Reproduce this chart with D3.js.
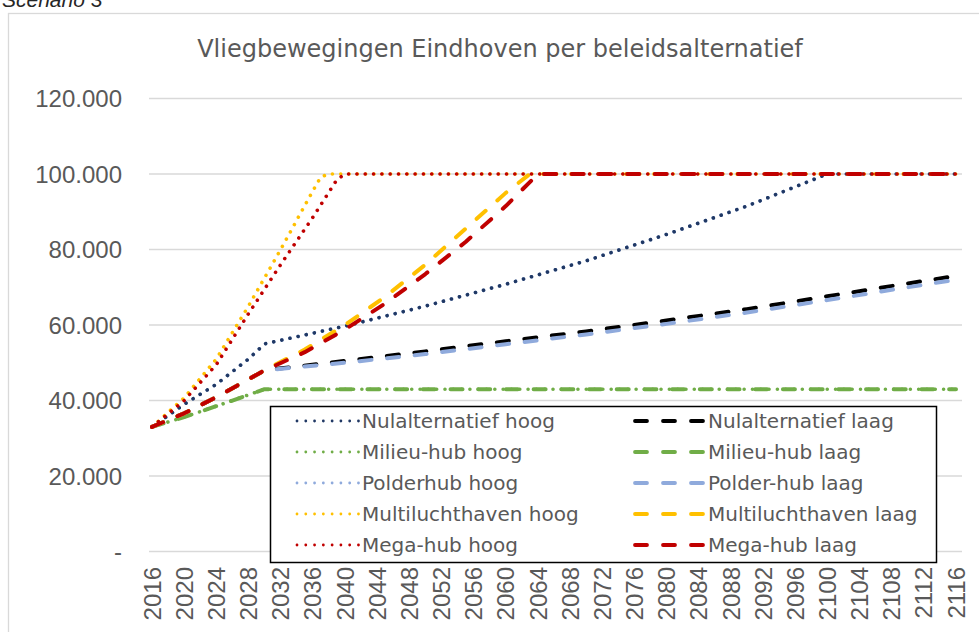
<!DOCTYPE html>
<html>
<head>
<meta charset="utf-8">
<script src="https://cdn.jsdelivr.net/npm/d3@7"></script>
<style>
  body { margin: 0; background: #fff; }
  svg { display: block; }
</style>
</head>
<body>
<script>
// chart data
var years = d3.range(2016, 2117);
var yTicks = [0, 20000, 40000, 60000, 80000, 100000, 120000];
var seriesNames = ["Nulalternatief hoog", "Nulalternatief laag", "Milieu-hub hoog", "Milieu-hub laag",
  "Polderhub hoog", "Polder-hub laag", "Multiluchthaven hoog", "Multiluchthaven laag",
  "Mega-hub hoog", "Mega-hub laag"];

var nulHoogYears = [2016, 2020, 2024, 2028, 2030, 2040, 2050, 2060, 2070, 2080, 2090, 2100, 2116];
var nulHoog      = [33000, 39000, 44300, 51000, 55000, 59700, 65000, 70800, 77000, 84000, 91500, 100000, 100000];

var nulLaagYears = [2016, 2020, 2024, 2028, 2030, 2040, 2050, 2060, 2070, 2080, 2090, 2100, 2110, 2116];
var nulLaag      = [33000, 36600, 40900, 45600, 48000, 50500, 53000, 55700, 58300, 61200, 64200, 67600, 71000, 73000];

var milieuYears = [2016, 2020, 2024, 2028, 2030, 2116];
var milieuHoog  = [33000, 35600, 38500, 41500, 43000, 43000];
var milieuLaag  = [33000, 35600, 38500, 41500, 43000, 43000];

var polderHoogYears = [2016, 2020, 2024, 2028, 2030, 2040, 2050, 2060, 2070, 2080, 2090, 2100, 2116];
var polderHoog      = [33000, 39000, 44300, 51000, 55000, 59700, 65000, 70800, 77000, 84000, 91500, 100000, 100000];

var polderLaagYears = [2016, 2020, 2024, 2028, 2030, 2040, 2050, 2060, 2070, 2080, 2090, 2100, 2110, 2116];
var polderLaag      = [33000, 36600, 40900, 45600, 48000, 50000, 52300, 54900, 57500, 60300, 63300, 66600, 70000, 72000];

var multiHoogYears = [2016, 2020, 2024, 2028, 2032, 2036, 2037, 2038, 2116];
var multiHoog      = [33000, 40700, 51000, 65000, 80000, 95500, 99200, 100000, 100000];

var multiLaagYears = [2016, 2020, 2024, 2028, 2030, 2035, 2040, 2045, 2050, 2055, 2060, 2063, 2116];
var multiLaag      = [33000, 36600, 40900, 45600, 48000, 53500, 60000, 67500, 76000, 85500, 95000, 100000, 100000];

var megaHoogYears = [2016, 2020, 2024, 2028, 2032, 2036, 2039, 2040, 2116];
var megaHoog      = [33000, 40000, 49500, 63000, 76000, 88500, 98500, 100000, 100000];

var megaLaagYears = [2016, 2020, 2024, 2028, 2030, 2035, 2040, 2045, 2050, 2055, 2060, 2064, 2116];
var megaLaag      = [33000, 36600, 40900, 45600, 48000, 52800, 58800, 65700, 73500, 82000, 91500, 100000, 100000];

var seriesYears  = [nulHoogYears, nulLaagYears, milieuYears, milieuYears, polderHoogYears,
  polderLaagYears, multiHoogYears, multiLaagYears, megaHoogYears, megaLaagYears];
var seriesValues = [nulHoog, nulLaag, milieuHoog, milieuLaag, polderHoog,
  polderLaag, multiHoog, multiLaag, megaHoog, megaLaag];

// looks
var colors = ["#203864", "#000000", "#70ad47", "#70ad47", "#8faadc", "#8faadc", "#ffc000", "#ffc000", "#c00000", "#c00000"];
var drawOrder = [4, 0, 1, 2, 3, 5, 6, 7, 8, 9];
var grey = "#595959";

var width = 979, height = 632;

var svg = d3.select("body").append("svg")
  .attr("width", width)
  .attr("height", height);

svg.append("rect")
  .attr("width", width).attr("height", height)
  .attr("fill", "#fff");

// chart frame
svg.append("rect")
  .attr("x", 8.5).attr("y", 13.5)
  .attr("width", 975).attr("height", 640)
  .attr("fill", "none")
  .attr("stroke", "#d9d9d9")
  .attr("stroke-width", 1.3);

// caption above the chart, cut off by the page top like in the source
svg.append("text")
  .attr("x", 2).attr("y", 7)
  .attr("font-family", "Liberation Sans, Arial, sans-serif")
  .attr("font-style", "italic")
  .attr("font-size", 21)
  .attr("fill", "#262626")
  .text("Scenario 3");

var title = svg.append("text")
  .attr("x", 500).attr("y", 57)
  .attr("text-anchor", "middle")
  .attr("font-family", "DejaVu Sans, sans-serif")
  .attr("font-size", 24)
  .attr("fill", grey)
  .text("Vliegbewegingen Eindhoven per beleidsalternatief");
fitWidth(title, 24, 606);

var x = d3.scalePoint().domain(years).range([152, 956]);
var y = d3.scaleLinear().domain([0, 120000]).range([551.5, 98.5]);

// gridlines
svg.append("g").selectAll("line")
  .data(yTicks)
  .enter().append("line")
  .attr("x1", 149).attr("x2", 962)
  .attr("y1", d => y(d)).attr("y2", d => y(d))
  .attr("stroke", "#d9d9d9")
  .attr("stroke-width", 1.3);

// y labels
var fmt = d3.format(",");
svg.append("g").selectAll("text")
  .data(yTicks)
  .enter().append("text")
  .attr("x", 122)
  .attr("y", d => y(d))
  .attr("dy", "0.36em")
  .attr("text-anchor", "end")
  .attr("font-family", "Liberation Sans, Arial, sans-serif")
  .attr("font-size", 24)
  .attr("fill", grey)
  .text(d => d === 0 ? "-" : fmt(d).replace(/,/g, "."));

// x labels, every 4 years
svg.append("g").selectAll("text")
  .data(years.filter(d => (d - 2016) % 4 === 0))
  .enter().append("text")
  .attr("transform", d => "translate(" + x(d) + ",567) rotate(-90)")
  .attr("dy", "0.36em")
  .attr("text-anchor", "end")
  .attr("font-family", "Liberation Sans, Arial, sans-serif")
  .attr("font-size", 24)
  .attr("fill", grey)
  .text(d => d);

var line = d3.line()
  .x(d => x(d[0]))
  .y(d => y(d[1]));

function dotted(sel, w, gap) {
  sel.attr("stroke-width", w)
    .attr("stroke-dasharray", "0.01 " + gap)
    .attr("stroke-linecap", "round");
}
function dashed(sel, w, dash, gap) {
  sel.attr("stroke-width", w)
    .attr("stroke-dasharray", dash + " " + gap)
    .attr("stroke-linecap", "round");
}

var plot = svg.append("g");
drawOrder.forEach(function (i) {
  var pts = seriesYears[i].map((yr, k) => [yr, seriesValues[i][k]]);
  var p = plot.append("path")
    .attr("d", line(pts))
    .attr("fill", "none")
    .attr("stroke", colors[i])
    .attr("stroke-linejoin", "round");
  if (i % 2 === 0) dotted(p, 3.6, 8.3);
  else dashed(p, 4, 12, 15.7);
});

// legend
var legend = svg.append("g");
legend.append("rect")
  .attr("x", 270.5).attr("y", 406.5)
  .attr("width", 666).attr("height", 156)
  .attr("fill", "#fff")
  .attr("stroke", "#000")
  .attr("stroke-width", 1.5);

seriesNames.forEach(function (name, i) {
  var row = Math.floor(i / 2);
  var cy = 421 + row * 31;
  var hoog = i % 2 === 0;
  var s = legend.append("line")
    .attr("y1", cy).attr("y2", cy)
    .attr("stroke", colors[i]);
  if (hoog) {
    s.attr("x1", 297).attr("x2", 358.5);
    dotted(s, 2.8, 8.77);
  } else {
    s.attr("x1", 635).attr("x2", 703);
    dashed(s, 3.8, 12, 16);
  }
  legend.append("text")
    .attr("x", hoog ? 362 : 708)
    .attr("y", cy)
    .attr("dy", "0.36em")
    .attr("font-family", "DejaVu Sans, sans-serif")
    .attr("font-size", 20)
    .attr("fill", grey)
    .text(name);
});

function fitWidth(sel, size, target) {
  var w = sel.node().getComputedTextLength();
  sel.attr("font-size", size * target / w);
}
</script>
</body>
</html>
